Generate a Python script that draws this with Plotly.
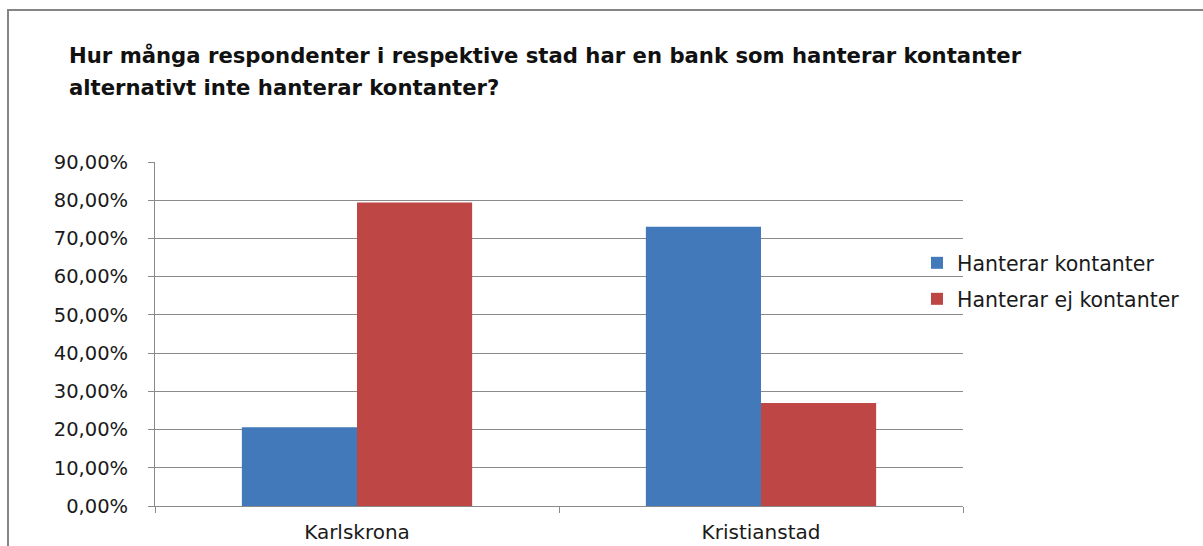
import plotly.graph_objects as go

categories = ["Karlskrona", "Kristianstad"]
series_names = ["Hanterar kontanter", "Hanterar ej kontanter"]
hanterar = [0.2059, 0.7308]
hanterar_ej = [0.7941, 0.2692]
colors = ["#4279BA", "#BE4745"]
title_lines = [
    "Hur många respondenter i respektive stad har en bank som hanterar kontanter",
    "alternativt inte hanterar kontanter?",
]

W, H = 1203, 546
L, R, T, B = 155, 963, 162, 506

def px(x):
    return (x - L) / (R - L)

def py(y):
    return (B - y) / (B - T)

FONT = "DejaVu Sans"
fig = go.Figure()
fig.add_trace(go.Bar(x=categories, y=hanterar, name=series_names[0],
                     marker=dict(color=colors[0], line=dict(width=0)), legend="legend"))
fig.add_trace(go.Bar(x=categories, y=hanterar_ej, name=series_names[1],
                     marker=dict(color=colors[1], line=dict(width=0)), legend="legend2"))

legend_common = dict(xanchor="left", yanchor="middle", bgcolor="rgba(0,0,0,0)",
                     font=dict(family=FONT, size=20.5, color="#1a1a1a"), itemwidth=30)

fig.update_layout(
    width=W, height=H,
    margin=dict(l=L, r=W - R, t=T, b=H - B, autoexpand=False),
    paper_bgcolor="white", plot_bgcolor="white",
    barmode="group", bargap=0.43, bargroupgap=0,
    separators=", ",
    font=dict(family=FONT, size=19, color="#1a1a1a"),
    legend=dict(x=px(917), y=py(263), **legend_common),
    legend2=dict(x=px(917), y=py(299), **legend_common),
    xaxis=dict(showline=True, linecolor="#8a8a8a", linewidth=1, automargin=False,
               ticks="outside", tickson="boundaries", ticklen=6, tickcolor="#8a8a8a",
               ticklabelstandoff=8,
               tickfont=dict(family=FONT, size=20, color="#1a1a1a"), showgrid=False),
    yaxis=dict(range=[0, 0.9], dtick=0.1, tickformat=".2%", showline=True, automargin=False,
               linecolor="#8a8a8a", linewidth=1, ticks="outside", ticklen=6,
               tickcolor="#8a8a8a", gridcolor="#8a8a8a", gridwidth=1,
               zeroline=False, ticklabelstandoff=16,
               tickfont=dict(family=FONT, size=19.5, color="#1a1a1a")),
    showlegend=True,
)

fig.add_annotation(text="<b>" + title_lines[0] + "</b>", xref="paper", yref="paper",
                   x=px(67), y=py(56), xanchor="left", yanchor="middle", showarrow=False,
                   font=dict(family=FONT, size=21.2, color="#111"))
fig.add_annotation(text="<b>" + title_lines[1] + "</b>", xref="paper", yref="paper",
                   x=px(67), y=py(87), xanchor="left", yanchor="middle", showarrow=False,
                   font=dict(family=FONT, size=21.2, color="#111"))

fig.add_shape(type="rect", xref="paper", yref="paper",
              x0=px(8), x1=px(1215), y0=py(560), y1=py(10),
              line=dict(color="#858585", width=2), fillcolor="rgba(0,0,0,0)", layer="below")

fig.write_html("out.html")
